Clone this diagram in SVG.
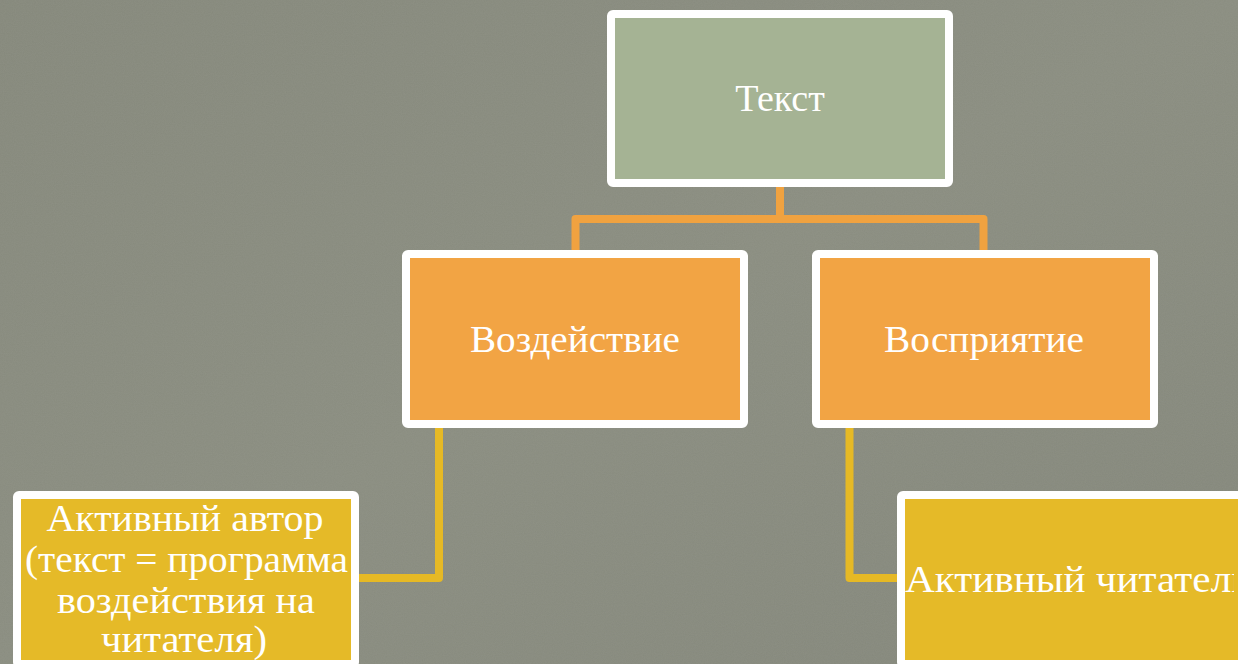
<svg xmlns="http://www.w3.org/2000/svg" width="1238" height="664" viewBox="0 0 1238 664">
  <defs>
    <style>
      .box { stroke: #ffffff; stroke-width: 8; stroke-linejoin: round; }
      .green { fill: #a5b394; }
      .orange { fill: #f2a444; }
      .yellow { fill: #e5ba28; }
      .lbl { font-family: "Liberation Serif", "Times New Roman", serif; font-size: 38px; fill: #ffffff; }
      .conO { fill: none; stroke: #f0a240; stroke-width: 8; stroke-linejoin: round; }
      .conY { fill: none; stroke: #e6b925; stroke-width: 8; stroke-linejoin: round; }
    </style>
    <filter id="noise" x="0" y="0" width="100%" height="100%">
      <feTurbulence type="fractalNoise" baseFrequency="0.9" numOctaves="2" seed="3" result="n"/>
      <feColorMatrix type="matrix" values="0 0 0 0 0.5  0 0 0 0 0.5  0 0 0 0 0.47  0 0 0 0.12 0"/>
    </filter>
    <linearGradient id="bg" x1="0" y1="0" x2="1" y2="1">
      <stop offset="0" stop-color="#85887b"/>
      <stop offset="0.5" stop-color="#8a8d80"/>
      <stop offset="1" stop-color="#83867a"/>
    </linearGradient>
    <clipPath id="clipR">
      <rect x="904" y="499" width="330" height="161"/>
    </clipPath>
  </defs>

  <rect x="0" y="0" width="1238" height="664" fill="url(#bg)"/>
  <rect x="0" y="0" width="1238" height="664" filter="url(#noise)"/>

  <g id="connectors">
    <path class="conO" d="M780,187 V219 M575.5,250 V219 H983.5 V250"/>
    <path class="conY" d="M439,428 V578 H359"/>
    <path class="conY" d="M849.5,428 V578 H897"/>
  </g>

  <g id="node-text">
    <rect class="box green" x="611" y="14" width="338" height="169" rx="2"/>
    <text class="lbl" x="780" y="111" text-anchor="middle">Текст</text>
  </g>

  <g id="node-vozdeystvie">
    <rect class="box orange" x="406" y="254" width="338" height="170" rx="2"/>
    <text class="lbl" x="575" y="352" text-anchor="middle" textLength="210" lengthAdjust="spacingAndGlyphs">Воздействие</text>
  </g>

  <g id="node-vospriyatie">
    <rect class="box orange" x="816" y="254" width="338" height="170" rx="2"/>
    <text class="lbl" x="984" y="352" text-anchor="middle" textLength="200" lengthAdjust="spacingAndGlyphs">Восприятие</text>
  </g>

  <g id="node-avtor">
    <rect class="box yellow" x="17" y="495" width="338" height="169" rx="2"/>
    <text class="lbl" x="185" y="531" text-anchor="middle" textLength="277" lengthAdjust="spacingAndGlyphs">Активный автор</text>
    <text class="lbl" x="186.5" y="572" text-anchor="middle" textLength="323" lengthAdjust="spacingAndGlyphs">(текст = программа</text>
    <text class="lbl" x="186" y="613" text-anchor="middle" textLength="258" lengthAdjust="spacingAndGlyphs">воздействия на</text>
    <text class="lbl" x="184" y="652" text-anchor="middle" textLength="166" lengthAdjust="spacingAndGlyphs">читателя)</text>
  </g>

  <g id="node-chitatel">
    <rect class="box yellow" x="901" y="495" width="341" height="169" rx="2"/>
    <text class="lbl" x="905" y="592" clip-path="url(#clipR)" textLength="345" lengthAdjust="spacingAndGlyphs">Активный читатель</text>
  </g>
</svg>
